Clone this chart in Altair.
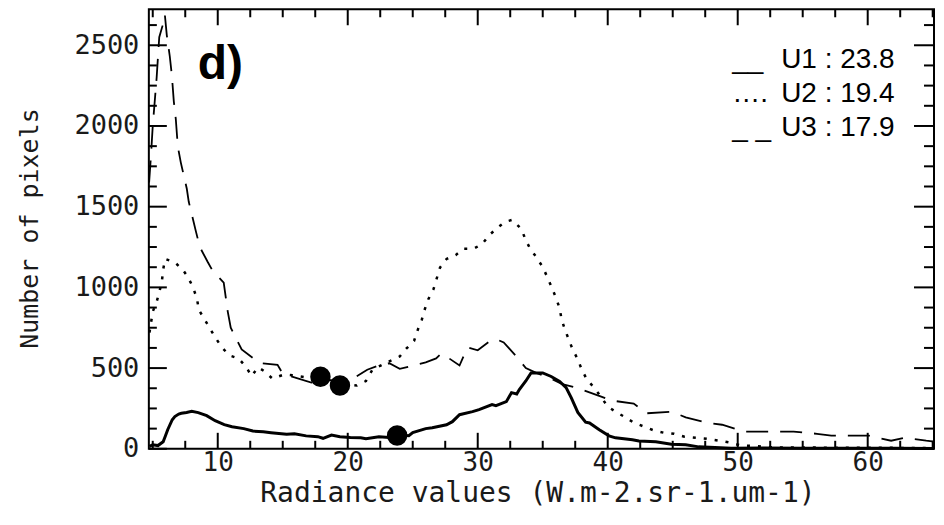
import altair as alt
import pandas as pd
import numpy as np

# ---------------- data ----------------
u1_x = [4.75, 5.0, 5.4, 5.8, 5.95, 6.15, 6.5, 6.7, 7.0, 7.2, 7.6, 8.0, 8.5, 9.15, 9.8, 10.5, 11.1, 12.0, 12.7,
        13.5, 14.1, 15.3, 15.9, 16.8, 17.7, 18.1, 18.75, 19.4, 20.2, 21.0, 21.4, 22.4, 23.2, 23.8, 24.7, 25.0,
        26.0, 26.5, 27.6, 28.05, 28.6, 29.6, 30.1, 31.1, 31.4, 32.2, 32.6, 33.0, 33.2, 33.7, 34.1, 34.6, 35.0,
        35.65, 36.3, 36.8, 37.2, 37.7, 38.3, 38.6, 39.35, 40.1, 40.6, 41.9, 42.4, 43.7, 44.9, 46.0, 47.0, 49.5,
        52.0, 55.0, 58.0, 62.0, 65.1]
u1_y = [15, 25, 20, 44, 75, 118, 180, 200, 215, 220, 225, 232, 224, 205, 174, 150, 137, 125, 110,
        105, 100, 90, 93, 80, 75, 65, 85, 75, 70, 68, 62, 75, 70, 85, 81, 100,
        125, 131, 149, 168, 211, 230, 243, 274, 267, 292, 348, 340, 367, 420, 470, 470, 470,
        448, 417, 379, 315, 225, 165, 160, 118, 80, 68, 56, 48, 44, 28, 25, 12, 3,
        5, 3, 4, 3, 2]

u2_x = [4.75, 5.0, 5.3, 5.5, 5.7, 5.8, 5.95, 6.7, 7.3, 7.7, 8.1, 8.4, 8.55, 9.0, 9.4, 9.85, 10.3, 10.9,
        11.6, 12.2, 12.6, 13.1, 13.6, 14.2, 15.1, 15.8, 17.0, 18.5, 19.4, 20.0, 20.7, 21.4, 21.9, 23.0,
        24.0, 24.5, 25.1, 25.4, 25.7, 25.9, 26.2, 26.6, 27.1, 27.6, 28.3, 28.9, 29.7, 30.35, 30.9, 31.5,
        32.1, 32.65, 33.35, 33.66, 34.0, 34.5, 35.0, 35.35, 35.65, 36.0, 36.3, 36.45, 36.7, 37.0, 37.3,
        37.7, 38.0, 38.4, 38.95, 39.5, 40.0, 40.6, 41.4, 42.0, 42.8, 43.6, 44.3, 45.1, 45.9, 46.8, 47.6,
        48.6, 49.5, 50.3, 51.1, 52.8, 55.0, 58.0, 61.0, 65.1]
u2_y = [720, 850, 910, 970, 1035, 1110, 1176, 1155, 1110, 1065, 1000, 930, 860, 800, 745, 685, 630, 578,
        560, 505, 450, 505, 480, 435, 460, 455, 440, 420, 392, 398, 392, 420, 490, 535,
        572, 620, 668, 740, 800, 858, 927, 990, 1123, 1176, 1200, 1240, 1240, 1269, 1325, 1368,
        1406, 1418, 1362, 1300, 1244, 1188, 1126, 1064, 1008, 939, 871, 802, 740, 678, 616,
        554, 491, 429, 379, 320, 261, 230, 193, 162, 137, 112, 100, 93, 75, 68, 62,
        50, 37, 19, 19, 8, 8, 6, 6, 5]

u3_x = [4.72, 4.85, 5.0, 5.3, 5.5, 5.75, 5.93, 6.08, 6.31, 6.47, 6.62, 6.77, 6.93, 7.16, 7.62, 7.77, 8.31,
        8.62, 9.23, 9.62, 10.46, 10.77, 11.0, 11.84, 13.2, 14.6, 15.0, 17.2, 18.0, 19.5, 20.5, 21.5, 22.5,
        23.2, 24.0, 25.0, 26.0, 26.8, 27.2, 27.8, 28.6, 29.2, 30.0, 30.9, 31.4, 32.0, 33.0, 33.7, 34.5,
        35.5, 36.5, 37.6, 39.5, 40.3, 42.0, 43.0, 44.9, 46.0, 47.6, 48.8, 50.5, 51.6, 53.4, 54.3, 56.1,
        57.2, 58.9, 60.1, 61.8, 62.8, 64.5, 65.1]
u3_y = [1650, 1800, 2000, 2300, 2550, 2620, 2690, 2563, 2432, 2314, 2152, 2046, 1872, 1773, 1611, 1530, 1350,
        1250, 1157, 1101, 1030, 850, 750, 615, 532, 520, 465, 410, 430, 420, 440, 490, 520,
        530, 495, 515, 535, 560, 590, 560, 516, 628, 610, 665, 680, 659, 570, 500, 470,
        440, 400, 379, 323, 299, 280, 220, 230, 195, 162, 149, 106, 106, 106, 106, 93,
        81, 81, 81, 50, 68, 50, 45]

dot_x = [17.9, 19.4, 23.8]
dot_y = [447, 392, 82]

legend_marks = ["__", "\u2026.", "_ _"]
legend_labels = ["U1 : 23.8", "U2 : 19.4", "U3 : 17.9"]
panel_label = "d)"

x_ticks = [10, 20, 30, 40, 50, 60]
y_ticks = [0, 500, 1000, 1500, 2000, 2500]
x_minor = [float(v) for v in np.arange(5, 65.01, 2.5) if v % 10 != 0]
y_minor = [float(v) for v in np.arange(0, 2700, 125) if v % 500 != 0]

# ---------------- layout ----------------
W, H = 786, 440
XMIN, XMAX = 4.7, 65.1
YMIN, YMAX = 0, 2723
MONO = "DejaVu Sans Mono"
SANS = "Liberation Sans"
TXT = "#1a1a1a"

xs = alt.Scale(domain=[XMIN, XMAX], nice=False, zero=False)
ys = alt.Scale(domain=[YMIN, YMAX], nice=False, zero=False)

xaxis = alt.Axis(values=x_ticks, ticks=False, domain=False, grid=False, labelFont=MONO, labelFontSize=26,
                 labelColor=TXT, labelPadding=1, labelFlush=False, format="d",
                 title="Radiance values (W.m-2.sr-1.um-1)", titleFont=MONO, titleFontSize=28,
                 titleFontWeight="normal", titleColor=TXT, titleX=389, titleY=53,
                 titleBaseline="alphabetic", titleAlign="center")
yaxis = alt.Axis(values=y_ticks, ticks=False, domain=False, grid=False, labelFont=MONO, labelFontSize=27,
                 labelColor=TXT, labelPadding=10, labelFlush=False, format="d",
                 title="Number of pixels", titleFont=MONO, titleFontSize=25, titleFontWeight="normal",
                 titleColor=TXT, titleX=-111, titleY=219, titleAngle=270, titleBaseline="alphabetic",
                 titleAlign="center")

X = alt.X("x:Q", scale=xs, axis=xaxis)
Y = alt.Y("y:Q", scale=ys, axis=yaxis)

d1 = pd.DataFrame({"x": u1_x, "y": u1_y})
d2 = pd.DataFrame({"x": u2_x, "y": u2_y})
d3 = pd.DataFrame({"x": u3_x, "y": u3_y})
dd = pd.DataFrame({"x": dot_x, "y": dot_y})

line1 = alt.Chart(d1).mark_line(color="black", strokeWidth=3).encode(x=X, y=Y)
line2 = alt.Chart(d2).mark_line(color="black", strokeWidth=2.5, strokeDash=[3, 8]).encode(x=X, y=Y)
line3 = alt.Chart(d3).mark_line(color="black", strokeWidth=1.8, strokeDash=[22, 12]).encode(x=X, y=Y)
dots = alt.Chart(dd).mark_point(filled=True, color="black", size=420, opacity=1).encode(x=X, y=Y)

# inward ticks on all four sides, lengths converted from pixels to data units
ypp = (YMAX - YMIN) / H   # data units per pixel (vertical)
xpp = (XMAX - XMIN) / W   # data units per pixel (horizontal)


def xtick_layer(vals, length_px, top):
    L = length_px * ypp
    if top:
        df = pd.DataFrame({"x": vals, "y": [YMAX - L] * len(vals), "y2": [YMAX] * len(vals)})
    else:
        df = pd.DataFrame({"x": vals, "y": [YMIN] * len(vals), "y2": [YMIN + L] * len(vals)})
    return alt.Chart(df).mark_rule(color="black", strokeWidth=2).encode(x=X, y=Y, y2="y2:Q")


def ytick_layer(vals, length_px, right):
    L = length_px * xpp
    if right:
        df = pd.DataFrame({"y": vals, "x": [XMAX - L] * len(vals), "x2": [XMAX] * len(vals)})
    else:
        df = pd.DataFrame({"y": vals, "x": [XMIN] * len(vals), "x2": [XMIN + L] * len(vals)})
    return alt.Chart(df).mark_rule(color="black", strokeWidth=2).encode(y=Y, x=X, x2="x2:Q")


ticks = [
    xtick_layer(x_ticks, 16, False), xtick_layer(x_minor, 8, False),
    xtick_layer(x_ticks, 16, True), xtick_layer(x_minor, 8, True),
    ytick_layer(y_ticks, 18, False), ytick_layer(y_minor, 8, False),
    ytick_layer(y_ticks, 20, True), ytick_layer(y_minor, 10, True),
]

# legend text and panel label
one = pd.DataFrame({"k": [0]})
texts = []
rows_y = [59, 93, 127]
for mark, lab, yy in zip(legend_marks, legend_labels, rows_y):
    texts.append(alt.Chart(one).mark_text(text=mark, font=SANS, fontSize=28, color="black",
                                          align="left", baseline="alphabetic")
                 .encode(x=alt.value(584), y=alt.value(yy)))
    texts.append(alt.Chart(one).mark_text(text=lab, font=SANS, fontSize=28, color="black",
                                          align="left", baseline="alphabetic")
                 .encode(x=alt.value(633), y=alt.value(yy)))
texts.append(alt.Chart(one).mark_text(text=panel_label, font=SANS, fontSize=48, fontWeight="bold",
                                      color="black", align="left", baseline="alphabetic")
             .encode(x=alt.value(49), y=alt.value(70)))

chart = alt.layer(line2, line3, line1, dots, *ticks, *texts).properties(
    width=W, height=H,
    padding={"left": 141, "top": 1, "right": 2, "bottom": 62},
    autosize=alt.AutoSizeParams(type="none"),
).configure_view(stroke="black", strokeWidth=2)

chart.save("out.html", embed_options={"renderer": "svg", "actions": False})
